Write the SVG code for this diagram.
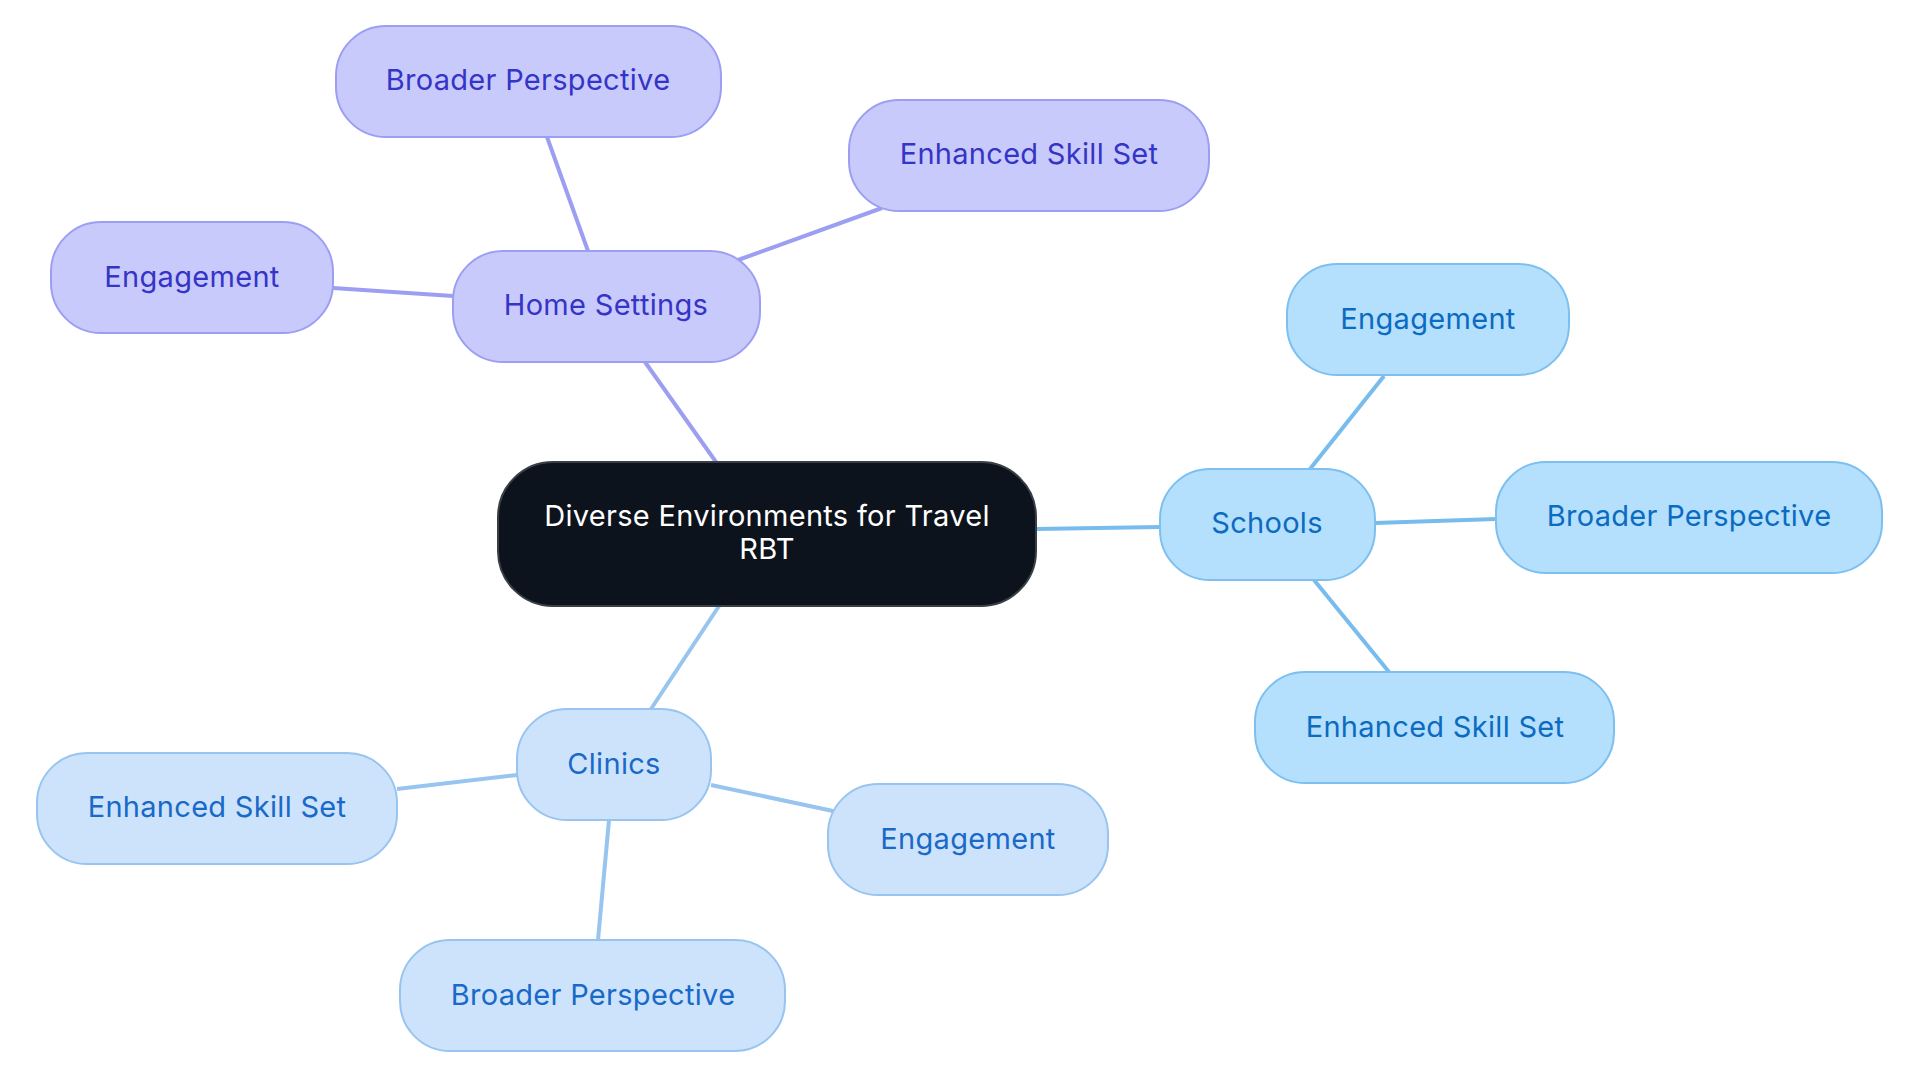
<svg xmlns="http://www.w3.org/2000/svg" width="1920" height="1083" viewBox="0 0 1920 1083">
<style>
text{font-family:Inter,"Noto Sans","Liberation Sans",sans-serif;font-size:29px;letter-spacing:0.3px;text-anchor:middle;dominant-baseline:central}
.c rect{fill:#0d131c;stroke:#3a3f46;stroke-width:2}
.c text{fill:#ffffff}
.h rect{fill:#c9cafc;stroke:#9c9ef2;stroke-width:2}
.h text{fill:#3434c6}
.s rect{fill:#b4dffd;stroke:#7dc0f0;stroke-width:2}
.s text{fill:#0b6bc0}
.k rect{fill:#cde3fb;stroke:#98c4f0;stroke-width:2}
.k text{fill:#1869c8}
.eh{stroke:#9c9ef2;stroke-width:4;fill:none}
.es{stroke:#78bcee;stroke-width:4;fill:none}
.ek{stroke:#98c4f0;stroke-width:4;fill:none}
</style>
<g id="connectors">
<line class="eh" x1="716" y1="462" x2="645" y2="362"/>
<line class="eh" x1="588" y1="251" x2="547" y2="137"/>
<line class="eh" x1="738" y1="260" x2="882" y2="208"/>
<line class="eh" x1="453" y1="296" x2="333" y2="288"/>
<line class="es" x1="1036" y1="529" x2="1160" y2="527"/>
<line class="es" x1="1310" y1="469" x2="1384" y2="376"/>
<line class="es" x1="1375" y1="523" x2="1496" y2="519"/>
<line class="es" x1="1314" y1="580" x2="1389" y2="672"/>
<line class="ek" x1="719" y1="606" x2="651" y2="709"/>
<line class="ek" x1="517" y1="775" x2="397" y2="789"/>
<line class="ek" x1="711" y1="785" x2="833" y2="811"/>
<line class="ek" x1="609" y1="820" x2="598" y2="940"/>
</g>
<g id="center" class="c">
<rect x="498" y="462" width="538" height="144" rx="55"/>
<text x="767" y="515">Diverse Environments for Travel</text>
<text x="767" y="548">RBT</text>
</g>
<g id="home" class="h">
<rect x="453" y="251" width="307" height="111" rx="50"/>
<text x="606" y="304">Home Settings</text>
</g>
<g id="home-broader" class="h">
<rect x="336" y="26" width="385" height="111" rx="50"/>
<text x="528" y="79">Broader Perspective</text>
</g>
<g id="home-skill" class="h">
<rect x="849" y="100" width="360" height="111" rx="50"/>
<text x="1029" y="153">Enhanced Skill Set</text>
</g>
<g id="home-engagement" class="h">
<rect x="51" y="222" width="282" height="111" rx="50"/>
<text x="192" y="276">Engagement</text>
</g>
<g id="schools" class="s">
<rect x="1160" y="469" width="215" height="111" rx="50"/>
<text x="1267" y="522">Schools</text>
</g>
<g id="schools-engagement" class="s">
<rect x="1287" y="264" width="282" height="111" rx="50"/>
<text x="1428" y="318">Engagement</text>
</g>
<g id="schools-broader" class="s">
<rect x="1496" y="462" width="386" height="111" rx="50"/>
<text x="1689" y="515">Broader Perspective</text>
</g>
<g id="schools-skill" class="s">
<rect x="1255" y="672" width="359" height="111" rx="50"/>
<text x="1435" y="726">Enhanced Skill Set</text>
</g>
<g id="clinics" class="k">
<rect x="517" y="709" width="194" height="111" rx="50"/>
<text x="614" y="763">Clinics</text>
</g>
<g id="clinics-skill" class="k">
<rect x="37" y="753" width="360" height="111" rx="50"/>
<text x="217" y="806">Enhanced Skill Set</text>
</g>
<g id="clinics-engagement" class="k">
<rect x="828" y="784" width="280" height="111" rx="50"/>
<text x="968" y="838">Engagement</text>
</g>
<g id="clinics-broader" class="k">
<rect x="400" y="940" width="385" height="111" rx="50"/>
<text x="593" y="994">Broader Perspective</text>
</g>
</svg>
